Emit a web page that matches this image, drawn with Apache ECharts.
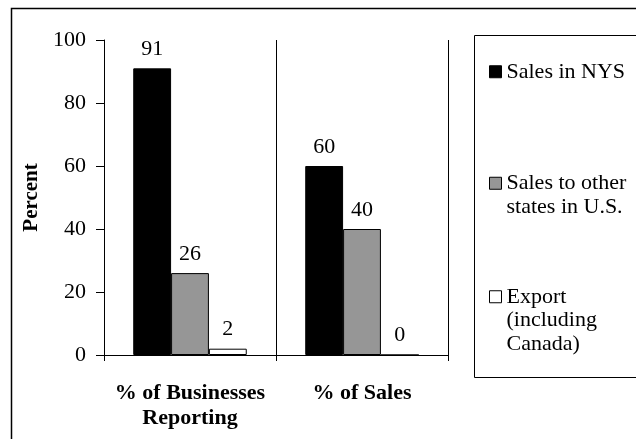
<!DOCTYPE html>
<html>
<head>
<meta charset="utf-8">
<script src="https://cdn.jsdelivr.net/npm/echarts@6/dist/echarts.min.js"></script>
<style>
  html, body { margin: 0; padding: 0; background: #fff; }
  #chart { width: 636px; height: 439px; }
</style>
</head>
<body>
<div id="chart"></div>
<script>
// Category labels along the x axis
const categories = ['% of Businesses\nReporting', '% of Sales'];

// Series names and how their legend entries wrap
const seriesNames = ['Sales in NYS', 'Sales to other states in U.S.', 'Export (including Canada)'];
const legendLabels = ['Sales in NYS', 'Sales to other\nstates in U.S.', 'Export\n(including\nCanada)'];

// Percent values per category
const salesInNYS = [91, 60];
const salesOtherStates = [26, 40];
const exportInclCanada = [2, 0];

// Value axis range
const yMin = 0;
const yMax = 100;
const yStep = 20;

const FONT = 'Liberation Serif';
const FS = 22;
const LH = 23.5;

const seriesValues = [salesInNYS, salesOtherStates, exportInclCanada];
const fills = ['#000000', '#969696', '#ffffff'];

const chart = echarts.init(document.getElementById('chart'), null, { renderer: 'canvas' });

// one legend block per series; blank leading lines keep each icon beside the first text line
const legendTops = [60, 148, 238];
const legends = seriesNames.map((name, i) => ({
  show: true,
  orient: 'vertical',
  left: 489,
  top: legendTops[i],
  padding: 0,
  icon: 'rect',
  itemWidth: 12,
  itemHeight: 12,
  selectedMode: false,
  itemStyle: { borderColor: '#000', borderWidth: 1 },
  textStyle: {
    fontFamily: FONT,
    fontSize: FS,
    lineHeight: LH,
    color: '#000'
  },
  formatter: () => '\n'.repeat(legendLabels[i].split('\n').length - 1) + legendLabels[i],
  data: [name]
}));

chart.setOption({
  animation: false,
  backgroundColor: '#fff',
  textStyle: { fontFamily: FONT, color: '#000' },
  grid: { left: 104, right: 188, top: 40, bottom: 84, containLabel: false, outerBoundsMode: 'none' },
  legend: legends,
  graphic: [
    {
      type: 'rect', z: -10, silent: true,
      shape: { x: 11.5, y: 8.5, width: 700, height: 500 },
      style: { fill: 'none', stroke: '#000', lineWidth: 1.5 }
    },
    {
      type: 'rect', z: -10, silent: true,
      shape: { x: 474.5, y: 35.5, width: 200, height: 342 },
      style: { fill: 'none', stroke: '#000', lineWidth: 1 }
    }
  ],
  xAxis: {
    type: 'category',
    data: categories,
    boundaryGap: true,
    axisLine: { show: true, lineStyle: { color: '#000', width: 1 } },
    axisTick: { show: true, length: 6, lineStyle: { color: '#000', width: 1 } },
    splitLine: { show: true, lineStyle: { color: '#000', width: 1 } },
    axisLabel: {
      interval: 0,
      margin: 26,
      fontFamily: FONT,
      fontSize: FS,
      fontWeight: 'bold',
      lineHeight: 25,
      color: '#000'
    }
  },
  yAxis: {
    type: 'value',
    min: yMin,
    max: yMax,
    interval: yStep,
    name: 'Percent',
    nameLocation: 'middle',
    nameGap: 58,
    nameTextStyle: { fontFamily: FONT, fontSize: 21, fontWeight: 'bold', color: '#000' },
    axisLine: { show: true, lineStyle: { color: '#000', width: 1 } },
    axisTick: { show: true, length: 8, lineStyle: { color: '#000', width: 1 } },
    splitLine: { show: false },
    axisLabel: { margin: 18, fontFamily: FONT, fontSize: FS, color: '#000' }
  },
  series: seriesNames.map((name, i) => ({
    name,
    type: 'bar',
    data: seriesValues[i],
    barGap: '0%',
    barCategoryGap: '34%',
    itemStyle: { color: fills[i], borderColor: '#000', borderWidth: 1 },
    label: {
      show: true,
      position: 'top',
      distance: 8,
      fontFamily: FONT,
      fontSize: FS,
      color: '#000'
    }
  }))
});
</script>
</body>
</html>
